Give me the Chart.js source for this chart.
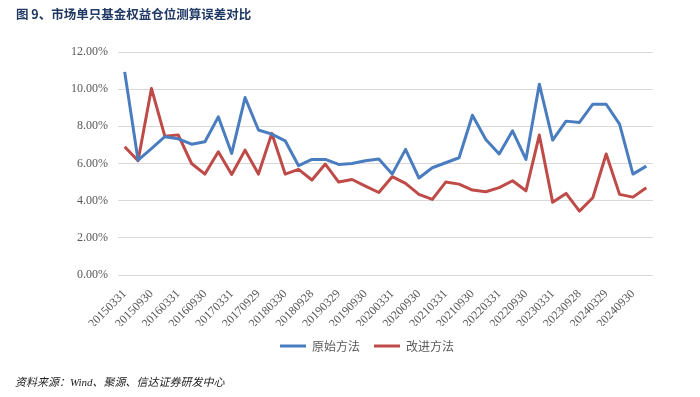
<!DOCTYPE html>
<html>
<head>
<meta charset="utf-8">
<script src="https://cdn.jsdelivr.net/npm/chart.js@4/dist/chart.umd.min.js"></script>
<style>
  html, body { margin: 0; padding: 0; background: #fff; }
  #wrap { position: relative; width: 700px; height: 397px; }
  #chart { position: absolute; left: 0; top: 0; }
  .title {
    position: absolute; left: 16px; top: 4px;
    font: bold 12.5px "Noto Sans CJK SC", sans-serif; color: #1f3864;
  }
  .source {
    position: absolute; left: 15px; top: 373px;
    font: italic 11px "Liberation Serif", "Noto Sans CJK SC", serif; color: #222;
  }
</style>
</head>
<body>
<div id="wrap">
  <canvas id="chart" width="700" height="397"></canvas>
  <div class="title">图 9、市场单只基金权益仓位测算误差对比</div>
  <div class="source">资料来源：Wind、聚源、信达证券研发中心</div>
</div>
<script>
const dates = [
  "20150331", "20150630", "20150930", "20151231", "20160331", "20160630", "20160930", "20161230",
  "20170331", "20170630", "20170929", "20171229", "20180330", "20180629", "20180928", "20181228",
  "20190329", "20190628", "20190930", "20191231", "20200331", "20200630", "20200930", "20201231",
  "20210331", "20210630", "20210930", "20211231", "20220331", "20220630", "20220930", "20221230",
  "20230331", "20230630", "20230928", "20231229", "20240329", "20240628", "20240930", "20241231"
];

// 原始方法 (%)
const originalMethod = [
  10.93, 6.18, 6.80, 7.44, 7.33, 7.04, 7.17, 8.51, 6.54, 9.55,
  7.80, 7.58, 7.22, 5.88, 6.22, 6.22, 5.95, 6.00, 6.15, 6.24,
  5.43, 6.76, 5.22, 5.77, 6.04, 6.31, 8.60, 7.29, 6.51, 7.76,
  6.22, 10.27, 7.26, 8.28, 8.21, 9.19, 9.19, 8.12, 5.43, 5.86
];

// 改进方法 (%)
const improvedMethod = [
  6.90, 6.15, 10.04, 7.47, 7.54, 6.00, 5.43, 6.63, 5.41, 6.72,
  5.43, 7.62, 5.43, 5.68, 5.11, 5.97, 5.00, 5.14, 4.78, 4.44,
  5.29, 4.93, 4.34, 4.07, 5.00, 4.89, 4.57, 4.48, 4.70, 5.07,
  4.53, 7.53, 3.91, 4.39, 3.44, 4.16, 6.51, 4.34, 4.19, 4.69
];

const yTicks = [0, 2, 4, 6, 8, 10, 12];

const tickFont = { family: "'Liberation Serif', 'Times New Roman', serif", size: 12 };

new Chart(document.getElementById("chart"), {
  type: "line",
  data: {
    labels: dates,
    datasets: [
      {
        label: "原始方法",
        data: originalMethod,
        borderColor: "#4a7dbf",
        backgroundColor: "#4a7dbf",
        borderWidth: 3,
        pointRadius: 0,
        tension: 0,
        borderJoinStyle: "round",
        yAxisID: "y",
      },
      {
        label: "改进方法",
        data: improvedMethod,
        borderColor: "#be4b48",
        backgroundColor: "#be4b48",
        borderWidth: 3,
        pointRadius: 0,
        tension: 0,
        borderJoinStyle: "round",
        yAxisID: "y",
      },
    ],
  },
  options: {
    responsive: false,
    animation: false,
    layout: { padding: { left: 34, right: 0, top: 52, bottom: 35 } },
    scales: {
      x: {
        offset: true,
        grid: { display: false },
        border: { display: false },
        ticks: {
          autoSkip: false,
          minRotation: 45,
          maxRotation: 45,
          padding: 4,
          color: "#595959",
          font: tickFont,
          callback: function (val, i) {
            return i % 2 === 0 ? this.getLabelForValue(val) : "";
          },
        },
        afterFit: (s) => { s.height = 51; },
      },
      y: {
        min: yTicks[0],
        max: yTicks[yTicks.length - 1],
        afterBuildTicks: (s) => { s.ticks = yTicks.map((v) => ({ value: v })); },
        grid: { color: "#d9d9d9", lineWidth: 1, drawTicks: false },
        border: { display: false },
        ticks: {
          padding: 10,
          color: "#595959",
          font: tickFont,
          callback: (v) => v.toFixed(2) + "%",
        },
        afterFit: (s) => { s.width = 84; },
      },
      y2: {
        position: "right",
        grid: { display: false },
        border: { display: false },
        ticks: { display: false },
        afterFit: (s) => { s.width = 47; },
      },
    },
    plugins: {
      legend: {
        position: "bottom",
        labels: {
          usePointStyle: true,
          pointStyle: "line",
          pointStyleWidth: 26,
          padding: 14,
          color: "#595959",
          font: { family: "'Noto Sans CJK SC', sans-serif", size: 12 },
        },
      },
      tooltip: { enabled: false },
    },
  },
});
</script>
</body>
</html>
